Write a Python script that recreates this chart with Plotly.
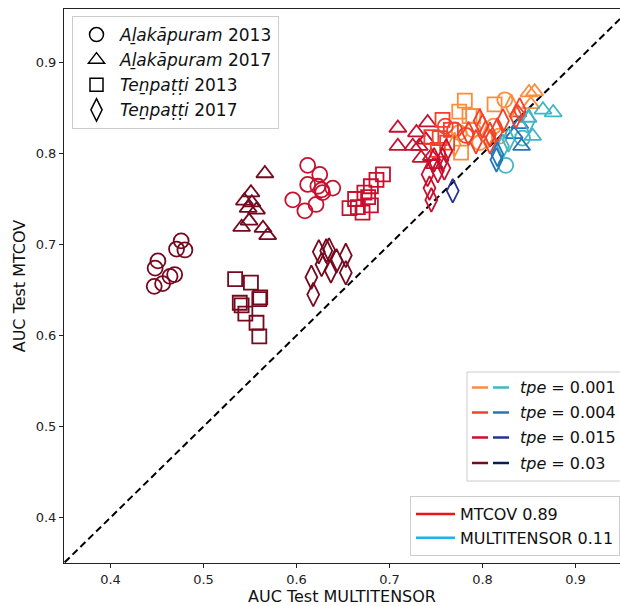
import plotly.graph_objects as go

# ---------------- data ----------------
TPE_VALUES = [0.001, 0.004, 0.015, 0.03]

# Alakapuram 2013 (circles): one list per tpe value
a13_x = [[0.824, 0.775, 0.797, 0.790, 0.812, 0.818, 0.825, 0.843],
         [0.770, 0.782, 0.760],
         [0.612, 0.625, 0.612, 0.623, 0.627, 0.639, 0.596, 0.621, 0.609, 0.628],
         [0.476, 0.471, 0.480, 0.451, 0.448, 0.456, 0.447, 0.469, 0.464]]
a13_y = [[0.859, 0.823, 0.812, 0.826, 0.830, 0.819, 0.787, 0.817],
         [0.826, 0.820, 0.830],
         [0.787, 0.777, 0.766, 0.764, 0.760, 0.762, 0.749, 0.744, 0.737, 0.757],
         [0.704, 0.695, 0.694, 0.682, 0.674, 0.657, 0.654, 0.667, 0.665]]

# Alakapuram 2017 (triangles)
a17_x = [[0.850, 0.856, 0.852, 0.865, 0.876, 0.854, 0.849],
         [0.838, 0.840, 0.834, 0.842],
         [0.709, 0.709, 0.729, 0.741, 0.725, 0.732, 0.739, 0.734, 0.745, 0.748],
         [0.566, 0.551, 0.544, 0.552, 0.557, 0.548, 0.549, 0.541, 0.564, 0.569]]
a17_y = [[0.867, 0.868, 0.854, 0.848, 0.845, 0.819, 0.839],
         [0.845, 0.832, 0.821, 0.808],
         [0.828, 0.808, 0.823, 0.834, 0.808, 0.808, 0.815, 0.795, 0.797, 0.788],
         [0.778, 0.757, 0.748, 0.746, 0.738, 0.740, 0.726, 0.719, 0.718, 0.710]]

# Tenpatti 2013 (squares)
t13_x = [[0.781, 0.775, 0.786, 0.777, 0.813, 0.790],
         [0.757, 0.766, 0.754, 0.752, 0.745, 0.762],
         [0.693, 0.686, 0.680, 0.673, 0.677, 0.663, 0.657, 0.666, 0.671, 0.680],
         [0.534, 0.551, 0.560, 0.539, 0.545, 0.557, 0.560, 0.541, 0.561]]
t13_y = [[0.858, 0.846, 0.841, 0.801, 0.854, 0.841],
         [0.837, 0.826, 0.817, 0.804, 0.818, 0.812],
         [0.777, 0.771, 0.764, 0.757, 0.752, 0.750, 0.740, 0.741, 0.735, 0.743],
         [0.662, 0.658, 0.640, 0.636, 0.624, 0.614, 0.599, 0.633, 0.642]]

# Tenpatti 2017 (diamonds)
t17_x = [[0.831, 0.805, 0.770, 0.850, 0.822, 0.828],
         [0.800, 0.808, 0.816, 0.822, 0.840, 0.797, 0.793, 0.808, 0.836, 0.785, 0.816, 0.815],
         [0.741, 0.743, 0.752, 0.759, 0.761, 0.748, 0.757, 0.745, 0.768],
         [0.624, 0.632, 0.635, 0.627, 0.643, 0.653, 0.637, 0.653, 0.616, 0.618]]
t17_y = [[0.852, 0.818, 0.810, 0.836, 0.808, 0.815],
         [0.830, 0.821, 0.826, 0.836, 0.848, 0.836, 0.813, 0.813, 0.841, 0.822, 0.799, 0.793],
         [0.777, 0.762, 0.781, 0.784, 0.803, 0.793, 0.793, 0.749, 0.759],
         [0.692, 0.693, 0.694, 0.678, 0.682, 0.688, 0.671, 0.669, 0.664, 0.645]]

DATASETS = ["<i>Aḻakāpuram</i> 2013", "<i>Aḻakāpuram</i> 2017",
            "<i>Teṉpaṭṭi</i> 2013", "<i>Teṉpaṭṭi</i> 2017"]
WIN_LABELS = ["MTCOV 0.89", "MULTITENSOR 0.11"]

# ---------------- styles ----------------
SYMBOLS = ["circle-open", "triangle-up-open", "square-open", "diamond-tall-open"]
SIZES = [15, 15, 14, 17]
RED = ["#fd8d3c", "#f4402a", "#c8102e", "#75091f"]
BLUE = ["#41b6c4", "#2277bb", "#253494", "#081d58"]
FONT = "DejaVu Sans"

W, H = 620, 606
PLOT_L, PLOT_R, PLOT_T, PLOT_B = 64, 620, 9, 563   # in window pixels

fig = go.Figure()

# diagonal y = x
fig.add_trace(go.Scatter(x=[0.3, 1.0], y=[0.3, 1.0], mode="lines",
                         line=dict(color="black", width=2, dash="7px,4px"),
                         showlegend=False, hoverinfo="skip"))

all_x = [a13_x, a17_x, t13_x, t17_x]
all_y = [a13_y, a17_y, t13_y, t17_y]
for d in range(4):
    for t in range(4):
        xs, ys = all_x[d][t], all_y[d][t]
        for better_mtcov, palette in ((True, RED), (False, BLUE)):
            px = [x for x, y in zip(xs, ys) if (y > x) == better_mtcov]
            py = [y for x, y in zip(xs, ys) if (y > x) == better_mtcov]
            if not px:
                continue
            fig.add_trace(go.Scatter(
                x=px, y=py, mode="markers", showlegend=False,
                marker=dict(symbol=SYMBOLS[d], size=SIZES[d], color=palette[t],
                            line=dict(width=1.8, color=palette[t]))))

# legend 1: datasets (black open markers)
for d in range(4):
    fig.add_trace(go.Scatter(
        x=[None], y=[None], mode="markers", name=DATASETS[d], legend="legend",
        marker=dict(symbol=SYMBOLS[d], size=SIZES[d] - 1, color="black",
                    line=dict(width=1.5, color="black"))))

# legend 3: winner lines
for name, col in zip(WIN_LABELS, ["#f01414", "#1ab4f0"]):
    fig.add_trace(go.Scatter(x=[None], y=[None], mode="lines", name=name,
                             legend="legend3", line=dict(color=col, width=2.5)))


def pxx(p):
    return (p - PLOT_L) / float(PLOT_R - PLOT_L)


def pxy(p):
    return (PLOT_B - p) / float(PLOT_B - PLOT_T)


# manual tpe legend (two dashes per entry)
fig.add_shape(type="rect", xref="paper", yref="paper",
              x0=pxx(467), x1=pxx(640), y0=pxy(481), y1=pxy(372),
              line=dict(color="#cccccc", width=1), fillcolor="white", layer="above")
rows = [387.5, 412.5, 437.5, 463]
for t in range(4):
    yy = pxy(rows[t])
    fig.add_shape(type="line", xref="paper", yref="paper", x0=pxx(472), x1=pxx(488),
                  y0=yy, y1=yy, line=dict(color=RED[t], width=2.5), layer="above")
    fig.add_shape(type="line", xref="paper", yref="paper", x0=pxx(493), x1=pxx(509),
                  y0=yy, y1=yy, line=dict(color=BLUE[t], width=2.5), layer="above")
    fig.add_annotation(xref="paper", yref="paper", x=pxx(518), y=yy,
                       xanchor="left", yanchor="middle", showarrow=False,
                       text=f"<i>tpe</i> = {TPE_VALUES[t]}",
                       font=dict(family=FONT, size=16, color="#111"))

legend_style = dict(bgcolor="white", bordercolor="#cccccc", borderwidth=1)
x_hi = 0.35 + (PLOT_R - PLOT_L) / 930.0
y_hi = 0.35 + (PLOT_B - PLOT_T) / 910.0
fig.update_layout(
    width=W, height=H,
    margin=dict(l=PLOT_L, r=W - PLOT_R, t=PLOT_T, b=H - PLOT_B, autoexpand=False),
    plot_bgcolor="white", paper_bgcolor="white",
    font=dict(family=FONT, size=13, color="#222"),
    legend=dict(x=pxx(72), y=pxy(16), xanchor="left", yanchor="top",
                itemwidth=37, font=dict(family=FONT, size=17, color="#111"),
                **legend_style),
    legend3=dict(x=1.0, y=pxy(556), xanchor="right", yanchor="bottom",
                 itemwidth=39, font=dict(family=FONT, size=16, color="#111"),
                 **legend_style),
    xaxis=dict(range=[0.35, x_hi], tickvals=[0.4, 0.5, 0.6, 0.7, 0.8, 0.9],
               ticktext=["0.4", "0.5", "0.6", "0.7", "0.8", "0.9"],
               showgrid=False, zeroline=False, showline=True, linecolor="#222",
               linewidth=1, mirror=True, ticks="outside", ticklen=4, tickcolor="#222",
               tickfont=dict(size=13),
               title=dict(text="AUC Test MULTITENSOR", standoff=6,
                          font=dict(size=16, color="#111"))),
    yaxis=dict(range=[0.35, y_hi], tickvals=[0.4, 0.5, 0.6, 0.7, 0.8, 0.9],
               ticktext=["0.4", "0.5", "0.6", "0.7", "0.8", "0.9"],
               showgrid=False, zeroline=False, showline=True, linecolor="#222",
               linewidth=1, ticks="outside", ticklen=4, tickcolor="#222",
               tickfont=dict(size=13),
               title=dict(text="AUC Test MTCOV", standoff=6,
                          font=dict(size=16, color="#111"))),
)

# remove the page's default body margin so the 620x606 figure fills the window
fig.write_html("out.html",
               config={"displayModeBar": False},
               post_script="document.body.style.margin='0';"
                           "document.body.style.overflow='hidden';")
